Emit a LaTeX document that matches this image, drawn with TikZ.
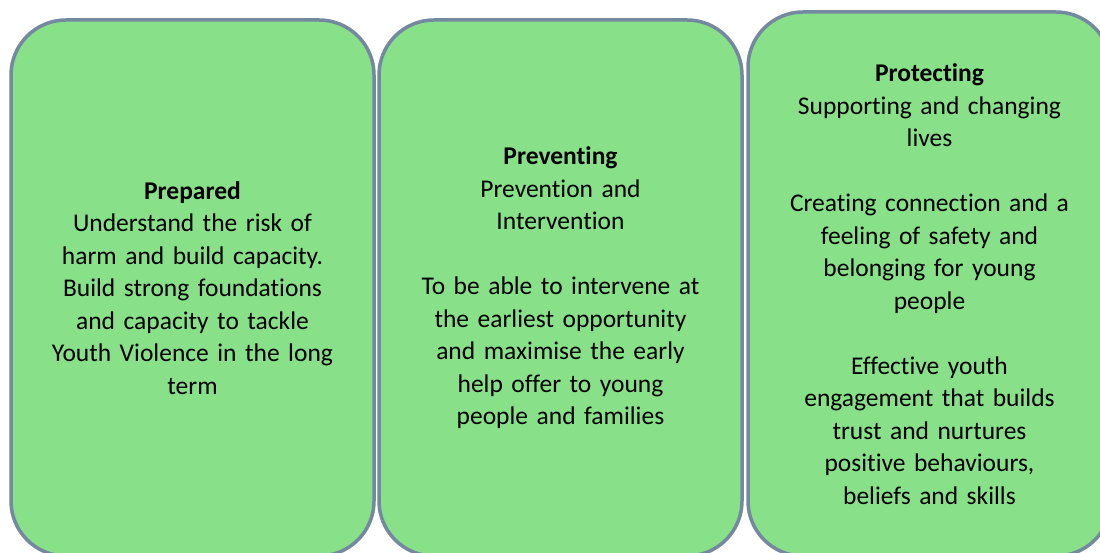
\documentclass[tikz,border=0pt]{standalone}
\usepackage{fontspec}
\setmainfont{Carlito}[Ligatures=NoCommon]
\usetikzlibrary{shapes}
\definecolor{boxgreen}{HTML}{88E088}
\definecolor{boxedge}{HTML}{7489A0}

\begin{document}
\begin{tikzpicture}[x=1pt, y=-1pt,
      every node/.style={draw=boxedge, fill=boxgreen, line width=3.5pt, rounded corners=55pt,
         minimum width=363pt, align=center, text width=340pt,
         font=\fontsize{25.5}{32.5}\selectfont},
      short box/.style={minimum height=536pt},
      tall box/.style={minimum height=544pt}]

         \useasboundingbox (0,0) rectangle (1100,553);
         \clip (0,0) rectangle (1100,553);

         \node [short box] (prepared) at (192.5,288) {\textbf{Prepared}\\
            Understand the risk of\\ harm and build capacity.\\ Build strong foundations\\
            and capacity to tackle\\ Youth Violence in the long\\ term};
         \node [short box] (preventing) at (560.5,288) {\textbf{Preventing}\\
            Prevention and\\ Intervention\\[32.5pt]
            To be able to intervene at\\ the earliest opportunity\\ and maximise the early\\
            help offer to young\\ people and families};
         \node [tall box] (protecting) at (929.5,284) {\textbf{Protecting}\\
            Supporting and changing\\ lives\\[32.5pt]
            Creating connection and a\\ feeling of safety and\\ belonging for young\\ people\\[32.5pt]
            Effective youth\\ engagement that builds\\ trust and nurtures\\
            positive behaviours,\\ beliefs and skills};
      \end{tikzpicture}
\end{document}
